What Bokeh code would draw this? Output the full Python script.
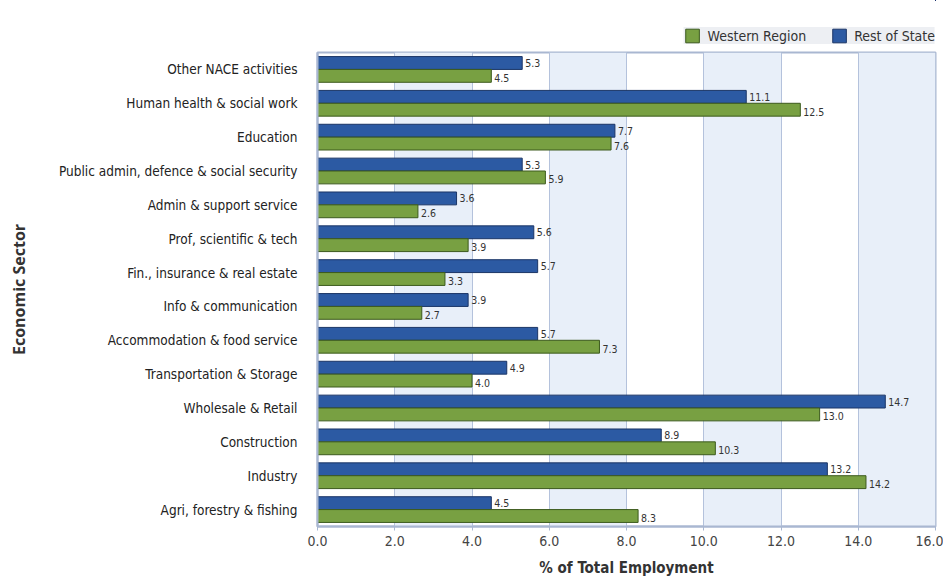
from bokeh.plotting import figure
from bokeh.layouts import column
from bokeh.models import ColumnDataSource, FactorRange, Legend, LegendItem, NumeralTickFormatter, FixedTicker
from bokeh.transform import dodge
from bokeh.core.properties import value
from bokeh.embed import file_html
from bokeh.resources import INLINE

sectors = [
    "Other NACE activities",
    "Human health & social work",
    "Education",
    "Public admin, defence & social security",
    "Admin & support service",
    "Prof, scientific & tech",
    "Fin., insurance & real estate",
    "Info & communication",
    "Accommodation & food service",
    "Transportation & Storage",
    "Wholesale & Retail",
    "Construction",
    "Industry",
    "Agri, forestry & fishing",
]
rest_of_state = [5.3, 11.1, 7.7, 5.3, 3.6, 5.6, 5.7, 3.9, 5.7, 4.9, 14.7, 8.9, 13.2, 4.5]
western_region = [4.5, 12.5, 7.6, 5.9, 2.6, 3.9, 3.3, 2.7, 7.3, 4.0, 13.0, 10.3, 14.2, 8.3]
x_ticks = [0, 2, 4, 6, 8, 10, 12, 14, 16]

FONT = "DejaVu Sans Condensed"
BLUE, BLUE_LINE = "#2c5aa3", "#1b3566"
GREEN, GREEN_LINE = "#78a042", "#3c5a1d"
W = 943

src = ColumnDataSource(dict(
    sector=sectors,
    rest=rest_of_state,
    west=western_region,
    rest_lbl=[f"{v:.1f}" for v in rest_of_state],
    west_lbl=[f"{v:.1f}" for v in western_region],
))

p = figure(
    width=W, height=535,
    y_range=FactorRange(factors=list(reversed(sectors)), range_padding=0),
    x_range=(0, 16),
    output_backend="svg", toolbar_location=None,
    min_border_left=317, min_border_right=8, min_border_bottom=52, min_border_top=8,
)
p.background_fill_color = "white"
p.outline_line_color = "#a9b7d1"
p.outline_line_width = 2

p.xgrid.grid_line_color = "#b4c2dc"
p.xgrid.grid_line_width = 1
p.xgrid.band_fill_color = "#e8eff9"
p.xgrid.band_fill_alpha = 1.0
p.ygrid.grid_line_color = None

BH = 0.38
r_rest = p.hbar(y=dodge("sector", 0.19, range=p.y_range), right="rest", left=0, height=BH,
                source=src, fill_color=BLUE, line_color=BLUE_LINE, line_width=1)
r_west = p.hbar(y=dodge("sector", -0.19, range=p.y_range), right="west", left=0, height=BH,
                source=src, fill_color=GREEN, line_color=GREEN_LINE, line_width=1)

p.text(x="rest", y=dodge("sector", 0.19, range=p.y_range), text="rest_lbl", source=src,
       x_offset=3, text_baseline="middle", text_font=value(FONT), text_font_size="10.5px",
       text_color="#333333")
p.text(x="west", y=dodge("sector", -0.19, range=p.y_range), text="west_lbl", source=src,
       x_offset=3, y_offset=2, text_baseline="middle", text_font=value(FONT), text_font_size="10.5px",
       text_color="#333333")

p.xaxis.ticker = FixedTicker(ticks=x_ticks)
p.xaxis.formatter = NumeralTickFormatter(format="0.0")
p.xaxis.axis_label = "% of Total Employment"
p.xaxis.axis_label_text_font = FONT
p.xaxis.axis_label_text_font_style = "bold"
p.xaxis.axis_label_text_font_size = "15px"
p.xaxis.axis_label_text_color = "#333333"
p.xaxis.axis_label_standoff = 10
p.xaxis.major_label_text_font = FONT
p.xaxis.major_label_text_font_size = "14px"
p.xaxis.major_label_text_color = "#444444"
p.xaxis.major_label_standoff = 5
p.xaxis.axis_line_color = "#a9b7d1"
p.xaxis.axis_line_width = 2
p.xaxis.major_tick_line_color = "#a9b7d1"
p.xaxis.major_tick_in = 0
p.xaxis.major_tick_out = 4
p.xaxis.minor_tick_line_color = None

p.yaxis.axis_label = "Economic Sector"
p.yaxis.axis_label_text_font = "Open Sans"
p.yaxis.axis_label_text_font_style = "bold"
p.yaxis.axis_label_text_font_size = "16px"
p.yaxis.axis_label_text_color = "#333333"
p.yaxis.axis_label_standoff = 26
p.yaxis.major_label_text_font = FONT
p.yaxis.major_label_text_font_size = "13.5px"
p.yaxis.major_label_text_color = "#222222"
p.yaxis.major_label_standoff = 14
p.yaxis.axis_line_color = "#a9b7d1"
p.yaxis.axis_line_width = 2
p.yaxis.major_tick_line_color = None

# legend strip above the chart; its renderers lie outside the strip's ranges, so only swatches show
lg = figure(width=W, height=44, x_range=(-2, -1), y_range=(-2, -1),
            output_backend="svg", toolbar_location=None,
            x_axis_type=None, y_axis_type=None,
            min_border=0)
lg.outline_line_color = None
lg.xgrid.grid_line_color = None
lg.ygrid.grid_line_color = None
lw = lg.hbar(y="west", right="west", left=0, height=0.5, source=src, fill_color=GREEN, line_color=GREEN_LINE)
lr = lg.hbar(y="rest", right="rest", left=0, height=0.5, source=src, fill_color=BLUE, line_color=BLUE_LINE)
legend = Legend(items=[
    LegendItem(label="Western Region", renderers=[lw]),
    LegendItem(label="Rest of State", renderers=[lr]),
], orientation="horizontal", location="bottom_right")
legend.background_fill_color = "#eceef2"
legend.border_line_color = None
legend.label_text_font = FONT
legend.label_text_font_size = "14px"
legend.label_text_color = "#333333"
legend.glyph_width = 17
legend.glyph_height = 17
legend.spacing = 24
legend.padding = 8
legend.margin = 0
legend.label_standoff = 7
lg.add_layout(legend)

layout = column(lg, p, spacing=0)
open("out.html", "w").write(file_html(layout, INLINE))
